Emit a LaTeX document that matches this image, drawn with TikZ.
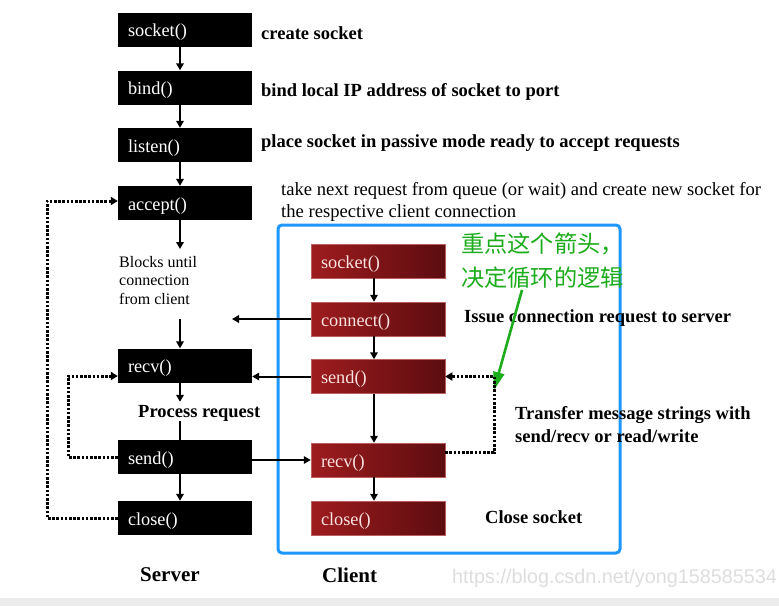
\documentclass[tikz,border=0pt]{standalone}
\usepackage{fontspec}
\setmainfont{Liberation Serif}
\newfontfamily\cjk{Noto Sans CJK SC}
\newfontfamily\wmfont{Liberation Sans}
\usetikzlibrary{arrows.meta,calc}
\definecolor{blueframe}{RGB}{30,150,255}
\definecolor{redA}{RGB}{158,28,30}
\definecolor{redB}{RGB}{92,12,16}
\definecolor{redtext}{RGB}{250,225,225}
\definecolor{notegreen}{RGB}{28,172,28}
\definecolor{bandgray}{RGB}{236,236,236}
\definecolor{wmgray}{RGB}{222,222,222}
\begin{document}
\begin{tikzpicture}[x=1pt,y=-1pt,
  boxfont/.style={font=\fontsize{18.3}{20}\selectfont},
  sbox/.style={boxfont,fill=black,text=white,minimum width=134pt,minimum height=34pt,
    inner xsep=10pt,inner ysep=0pt,text width=114pt,align=left,text height=14pt,text depth=0pt},
  cbox/.style={boxfont,left color=redA,right color=redB,draw=redA!70!white,line width=0.5pt,
    text=redtext,minimum width=134pt,minimum height=34pt,
    inner xsep=10pt,inner ysep=0pt,text width=114pt,align=left,text height=14pt,text depth=0pt},
  arr/.style={line width=2pt,-{Triangle[length=7pt,width=7.5pt]}},
  plain/.style={line width=2pt},
  dots/.style={line width=3pt,dash pattern=on 2.6pt off 1.6pt},
  dotarr/.style={dots,-{Triangle[length=7pt,width=8pt]}},
  lbl/.style={anchor=west,inner sep=0pt,font=\bfseries\fontsize{18.5}{23}\selectfont,align=left},
  rlbl/.style={anchor=west,inner sep=0pt,font=\fontsize{18.6}{22}\selectfont,align=left},
  big/.style={anchor=west,inner sep=0pt,font=\bfseries\fontsize{21}{24}\selectfont},
]
\useasboundingbox (0,0) rectangle (779,606);
\fill[white] (0,0) rectangle (779,606);
\fill[bandgray] (0,598) rectangle (779,606);

% watermark
\node[anchor=west,inner sep=0pt,text=wmgray,font=\wmfont\fontsize{19.8}{22}\selectfont] (wm) at (452,578) {https://blog.csdn.net/yong158585534};

% guide coordinates
\coordinate (sx) at (180,0);
\coordinate (cx) at (374,0);
\coordinate (ox) at (47,0);
\coordinate (ix) at (68,0);
\coordinate (dx) at (494,0);

% server boxes
\node[sbox] (ssock) at (185,29.5) {socket()};
\node[sbox] (sbind) at (185,87.5) {bind()};
\node[sbox] (slist) at (185,145) {listen()};
\node[sbox] (sacc)  at (185,203) {accept()};
\node[sbox] (srecv) at (185,365.5) {recv()};
\node[sbox] (ssend) at (185,457) {send()};
\node[sbox] (sclose) at (185,518) {close()};

% client boxes
\node[cbox] (csock) at (378,261) {socket()};
\node[cbox] (cconn) at (378,319) {connect()};
\node[cbox] (csend) at (378,376.5) {send()};
\node[cbox] (crecv) at (378,460) {recv()};
\node[cbox] (cclose) at (378,518) {close()};

% blue frame
\draw[blueframe,line width=3pt,rounded corners=4pt] (278,225) rectangle (620,553);

% descriptions
\node[lbl] (d1) at (261,33) {create socket};
\node[lbl] (d2) at (261,92) {bind local IP address of socket to port};
\node[lbl] (d3) at (261,143) {place socket in passive mode ready to accept requests};
\node[rlbl] (d4) at (281,202) {take next request from queue (or wait) and create new socket for\\the respective client connection};
\node[lbl] (d5) at (464,318) {Issue connection request to server};
\node[lbl] (d6) at (515,424.5) {Transfer message strings with\\send/recv or read/write};
\node[lbl] (d7) at (485,517) {Close socket};
\node[anchor=north west,inner sep=0pt,align=left,font=\fontsize{16}{18.5}\selectfont] (blocks) at (119,256) {Blocks until\\connection\\from client};
\node[lbl] (proc) at (138,413) {Process request};
\node[big] (server) at (140,575) {Server};
\node[big] (client) at (322,575) {Client};

% green note
\node[anchor=north west,inner sep=0pt,align=left,text=notegreen,font=\cjk\fontsize{23.2}{34}\selectfont] (gnote) at (461,233) {重点这个箭头，\\决定循环的逻辑};
\coordinate (gstart) at (522,290);
\coordinate (gtip) at (494,390);
\draw[notegreen,line width=2.6pt,-{Triangle[length=18pt,width=11pt]}] (gstart) -- (gtip);

% server arrows
\draw[arr] (ssock.south -| sx) -- (sbind.north -| sx);
\draw[arr] (sbind.south -| sx) -- (slist.north -| sx);
\draw[arr] (slist.south -| sx) -- (sacc.north -| sx);
\draw[arr,shorten >=7pt] (sacc.south -| sx) -- (blocks.north -| sx);
\draw[arr,shorten <=14pt] (blocks.south -| sx) -- (srecv.north -| sx);
\draw[arr,shorten >=3pt] (srecv.south -| sx) -- (proc.north -| sx);
\draw[plain] (proc.south -| sx) -- (ssend.north -| sx);
\draw[arr] (ssend.south -| sx) -- (sclose.north -| sx);

% server dotted loops
\draw[dotarr] (sclose.west) -- (sclose.west -| ox) -- ($(sacc.west -| ox)+(0,-2)$) -- ($(sacc.west)+(0,-2)$);
\draw[dotarr] (ssend.west) -- (ssend.west -| ix) -- ($(srecv.west -| ix)+(0,10.5)$) -- ($(srecv.west)+(0,10.5)$);

% client arrows
\draw[arr] (csock.south -| cx) -- (cconn.north -| cx);
\draw[arr] (cconn.south -| cx) -- (csend.north -| cx);
\draw[arr] (csend.south -| cx) -- (crecv.north -| cx);
\draw[arr] (crecv.south -| cx) -- (cclose.north -| cx);

% between client and server
\coordinate (cfree) at (232,319);
\draw[arr] (cconn.west) -- (cfree);
\draw[arr] (csend.west) -- (csend.west -| srecv.east);
\draw[arr] (crecv.west -| ssend.east) -- (crecv.west);

% client dotted loop
\draw[dotarr] ($(crecv.east)+(0,-7.5)$) -- ($(crecv.east -| dx)+(0,-7.5)$) -- (csend.east -| dx) -- (csend.east);
\end{tikzpicture}
\end{document}
